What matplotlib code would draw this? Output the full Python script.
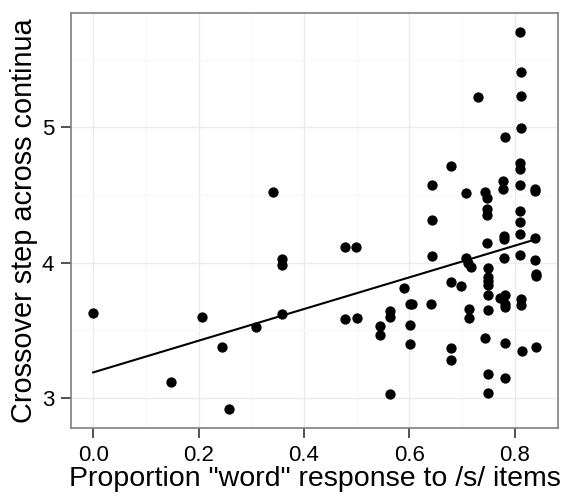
import numpy as np
import matplotlib
matplotlib.use("Agg")
import matplotlib.pyplot as plt
from matplotlib.ticker import MultipleLocator

plt.rcParams['font.family'] = ['Liberation Sans', 'DejaVu Sans']

# proportion "word" response vs crossover step
prop_word = [0.000, 0.148, 0.207, 0.245, 0.258, 0.309, 0.341, 0.358, 0.358, 0.359,
             0.477, 0.499, 0.477, 0.500, 0.545, 0.545, 0.5625, 0.5625, 0.5625, 0.589,
             0.602, 0.605, 0.602, 0.602, 0.643, 0.643, 0.643, 0.641,
             0.679, 0.679, 0.698, 0.679, 0.679, 0.708, 0.708, 0.712, 0.716, 0.714, 0.714,
             0.730, 0.744, 0.748, 0.747, 0.747, 0.747, 0.749, 0.749, 0.749, 0.749,
             0.749, 0.749, 0.744, 0.749, 0.750,
             0.777, 0.777, 0.781, 0.780, 0.780, 0.780, 0.772, 0.781, 0.781, 0.781,
             0.781, 0.782,
             0.809, 0.811, 0.811, 0.811, 0.809, 0.809, 0.810, 0.810, 0.810, 0.810,
             0.810, 0.811, 0.811, 0.813,
             0.839, 0.839, 0.839, 0.839, 0.840, 0.840, 0.840]
crossover = [3.628, 3.115, 3.594, 3.373, 2.916, 3.527, 4.519, 4.026, 3.982, 3.616,
             4.116, 4.116, 3.579, 3.591, 3.530, 3.466, 3.640, 3.596, 3.027, 3.812,
             3.690, 3.694, 3.540, 3.400, 4.573, 4.313, 4.046, 3.697,
             4.712, 3.854, 3.829, 3.370, 3.277, 4.517, 4.033, 3.996, 3.965, 3.657, 3.591,
             5.226, 4.524, 4.480, 4.394, 4.352, 4.144, 3.957, 3.895, 3.866, 3.834,
             3.763, 3.650, 3.444, 3.179, 3.039,
             4.602, 4.541, 4.926, 4.193, 4.173, 4.031, 3.739, 3.763, 3.694, 3.670,
             3.405, 3.149,
             5.705, 5.405, 5.233, 4.993, 4.738, 4.689, 4.571, 4.379, 4.300, 4.210,
             4.057, 3.731, 3.687, 3.348,
             4.546, 4.529, 4.178, 4.016, 3.915, 3.900, 3.378]

x = np.array(prop_word)
y = np.array(crossover)

fig = plt.figure(figsize=(5.64, 4.97), dpi=100)
ax = fig.add_axes([0.1259, 0.1388, 0.8635, 0.835])

# theme_bw look
ax.set_facecolor('white')
ax.xaxis.set_major_locator(MultipleLocator(0.2))
ax.xaxis.set_minor_locator(MultipleLocator(0.1))
ax.yaxis.set_major_locator(MultipleLocator(1))
ax.yaxis.set_minor_locator(MultipleLocator(0.5))
ax.grid(which='major', color='#ebebeb', linewidth=1.0)
ax.grid(which='minor', color='#f7f7f7', linewidth=0.8)
ax.set_axisbelow(True)
for s in ax.spines.values():
    s.set_color('#7f7f7f')
    s.set_linewidth(1.2)

ax.scatter(x, y, s=55, color='black', zorder=3, linewidths=0)

# linear fit
b, a = np.polyfit(x, y, 1)
xx = np.array([x.min(), x.max()])
ax.plot(xx, a + b * xx, color='black', linewidth=1.5, zorder=4)

xr = x.max() - x.min()
yr = y.max() - y.min()
ax.set_xlim(x.min() - 0.05 * xr, x.max() + 0.05 * xr)
ax.set_ylim(y.min() - 0.05 * yr, y.max() + 0.05 * yr)

ax.set_xticks([0.0, 0.2, 0.4, 0.6, 0.8])
ax.set_xticklabels(['0.0', '0.2', '0.4', '0.6', '0.8'])
ax.set_yticks([3, 4, 5])
ax.tick_params(which='major', length=7, width=1.2, color='#333333',
               labelsize=16, labelcolor='black', pad=5)
ax.tick_params(which='minor', length=0)

ax.set_xlabel('Proportion "word" response to /s/ items', fontsize=20.5, labelpad=0)
ax.set_ylabel('Crossover step across continua', fontsize=20.8, labelpad=3)

fig.savefig('out.png', dpi=100)
